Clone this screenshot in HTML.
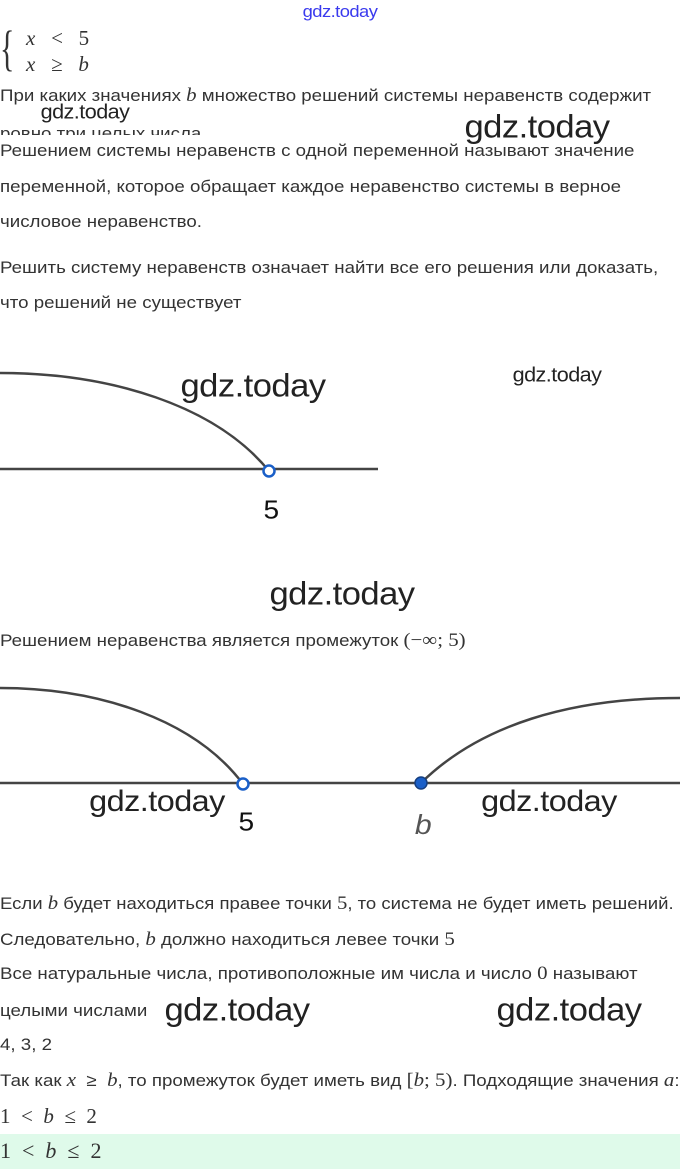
<!DOCTYPE html>
<html><head><meta charset="utf-8"><style>
body{margin:0;width:680px;height:1169px;position:relative;overflow:hidden;background:#fff;font-family:"Liberation Sans","DejaVu Sans",sans-serif;color:#333;}
.t{position:absolute;left:0;font-size:17px;line-height:20px;white-space:nowrap;transform:scaleX(1.1);transform-origin:left center}
.m{font-family:"Liberation Serif",serif;font-style:italic;font-size:19px}
.n{font-family:"Liberation Serif",serif;font-size:19px}
.w{position:absolute;color:#222;white-space:nowrap;font-family:"Liberation Sans",sans-serif;transform:translate(-50%,-50%) scaleX(1.08);font-weight:normal;letter-spacing:-0.5px}
</style></head><body>
<div class="w" style="left:340px;top:12px;font-size:17px;color:#3a3aee">gdz.today</div>
<div style="position:absolute;left:0px;top:18px;font-family:'Liberation Serif',serif;font-size:50px;line-height:60px;color:#333;transform:scaleX(0.6);transform-origin:left">{</div>
<div style="position:absolute;left:26px;top:26px;font-family:'Liberation Serif',serif;font-size:21px;line-height:24px;white-space:nowrap;color:#333"><i>x</i>&nbsp;&nbsp; &lt; &nbsp;&nbsp;5</div>
<div style="position:absolute;left:26px;top:52px;font-family:'Liberation Serif',serif;font-size:21px;line-height:24px;white-space:nowrap;color:#333"><i>x</i>&nbsp;&nbsp; ≥ &nbsp;&nbsp;<i>b</i></div>
<div class="t" style="top:86px">При каких значениях <span class="m">b</span> множество решений системы неравенств содержит</div>
<div class="t" style="top:124px;height:11px;overflow:hidden">ровно три целых числа</div>
<div class="w" style="left:85px;top:113px;font-size:20px">gdz.today</div>
<div class="w" style="left:537px;top:127px;font-size:32px">gdz.today</div>
<div class="t" style="top:141px">Решением системы неравенств с одной переменной называют значение</div>
<div class="t" style="top:177px">переменной, которое обращает каждое неравенство системы в верное</div>
<div class="t" style="top:212px">числовое неравенство.</div>
<div class="t" style="top:258px">Решить систему неравенств означает найти все его решения или доказать,</div>
<div class="t" style="top:293px">что решений не существует</div>
<svg style="position:absolute;left:0;top:0" width="680" height="1169">
<g stroke="#444" stroke-width="2.5" fill="none">
<line x1="0" y1="469" x2="378" y2="469"/>
<path d="M0 373 C110 373 215 405 269 471"/>
<line x1="0" y1="783" x2="680" y2="783"/>
<path d="M0 688 C100 688 195 720 243 784"/>
<path d="M421 783 C480 725 570 698 680 698"/>
</g>
<circle cx="269" cy="471" r="5.5" fill="#fff" stroke="#1a5fc8" stroke-width="2.5"/>
<circle cx="243" cy="784" r="5.5" fill="#fff" stroke="#1a5fc8" stroke-width="2.5"/>
<circle cx="421" cy="783" r="6" fill="#1a5fc8" stroke="#163f80" stroke-width="1.5"/>
</svg>
<div class="w" style="left:271px;top:510px;font-size:26px;color:#111">5</div>
<div class="w" style="left:253px;top:386px;font-size:32px">gdz.today</div>
<div class="w" style="left:557px;top:376px;font-size:20px">gdz.today</div>
<div class="w" style="left:342px;top:594px;font-size:32px">gdz.today</div>
<div class="t" style="top:631px">Решением неравенства является промежуток <span class="n">(−∞; 5)</span></div>
<div class="w" style="left:246px;top:822px;font-size:26px;color:#111">5</div>
<div class="w" style="left:423px;top:825px;font-size:28px;color:#555;font-style:italic">b</div>
<div class="w" style="left:157px;top:802px;font-size:30px">gdz.today</div>
<div class="w" style="left:549px;top:802px;font-size:30px">gdz.today</div>
<div class="t" style="top:894px;transform:scaleX(1.09)">Если <span class="m">b</span> будет находиться правее точки <span class="n">5</span>, то система не будет иметь решений.</div>
<div class="t" style="top:930px">Следовательно, <span class="m">b</span> должно находиться левее точки <span class="n">5</span></div>
<div class="t" style="top:964px">Все натуральные числа, противоположные им числа и число <span class="n">0</span> называют</div>
<div class="t" style="top:1001px">целыми числами</div>
<div class="w" style="left:237px;top:1010px;font-size:32px">gdz.today</div>
<div class="w" style="left:569px;top:1010px;font-size:32px">gdz.today</div>
<div class="t" style="top:1035px">4, 3, 2</div>
<div class="t" style="top:1071px;transform:scaleX(1.1)">Так как <span class="m">x</span> &nbsp;≥&nbsp; <span class="m">b</span>, то промежуток будет иметь вид <span class="n">[<i>b</i>; 5)</span>. Подходящие значения <span class="m">a</span>:</div>
<div style="position:absolute;left:0;top:1104px;font-family:'Liberation Serif',serif;font-size:21px;line-height:24px;white-space:nowrap;color:#333">1 &nbsp;&lt;&nbsp; <i>b</i> &nbsp;≤&nbsp; 2</div>
<div style="position:absolute;left:0;top:1134px;width:680px;height:35px;background:#dffaea"></div>
<div style="position:absolute;left:0;top:1139px;font-family:'Liberation Serif',serif;font-size:22px;line-height:24px;white-space:nowrap;color:#333">1 &nbsp;&lt;&nbsp; <i>b</i> &nbsp;≤&nbsp; 2</div>
</body></html>
